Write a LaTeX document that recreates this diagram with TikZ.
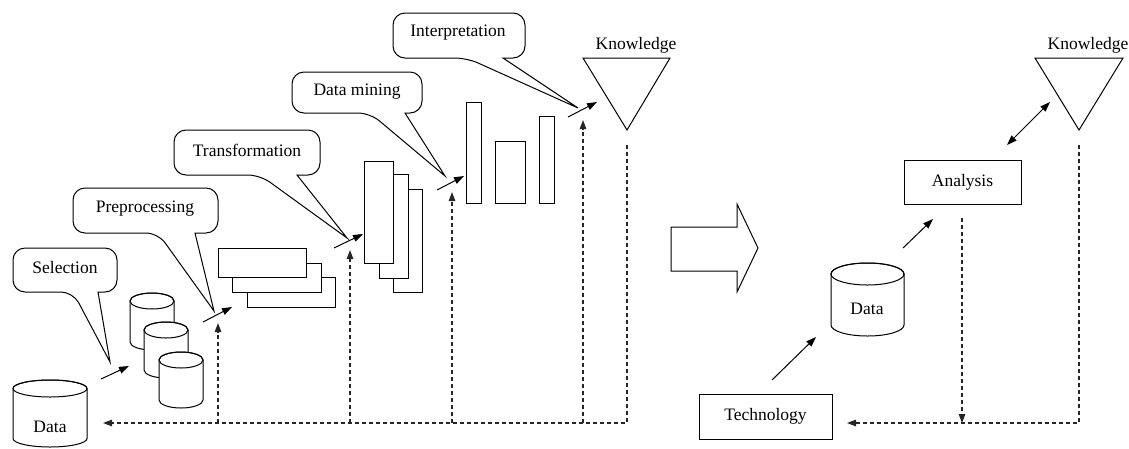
\documentclass[tikz,border=0pt]{standalone}
\usepackage{fontspec}
\setmainfont{Liberation Serif}
\usetikzlibrary{arrows.meta}
\tikzset{
  lbl/.style={font=\fontsize{17.5}{20}\selectfont, inner sep=0pt},
  solid line/.style={line width=1pt},
  callshape/.style={line width=1pt, fill=white},
  boxs/.style={draw, line width=1pt, fill=white, inner sep=0pt},
  cylbody/.style={draw, line width=1pt, fill=white},
  arr/.style={line width=1pt, -{Triangle[length=10pt,width=7pt]}},
  darr/.style={line width=1pt, {Triangle[length=10pt,width=7pt]}-{Triangle[length=10pt,width=7pt]}},
  fb/.style={line width=1.2pt, dash pattern=on 4pt off 3pt, black!85},
  fbarr/.style={fb, -{Triangle[length=9pt,width=6.5pt]}},
}
% callout: x1, ytop, x2, ybot, base left, base right, tip x, tip y (pixel y, positive down)
\newcommand{\callout}[8]{%
  \draw[callshape] (#6,-#4) [rounded corners=12pt] -- (#3,-#4) -- (#3,-#2) -- (#1,-#2) -- (#1,-#4) -- (#5,-#4) [sharp corners] -- (#7,-#8) -- cycle;}
% cylinder: name, cx, top, bottom, rx, ry (pixel y positive down)
\newcommand{\cylshape}[6]{%
  \path[cylbody] (#2-#5,-#3-#6) -- (#2-#5,-#4+#6)
    arc[start angle=180,end angle=360,x radius=#5pt,y radius=#6pt]
    -- (#2+#5,-#3-#6)
    arc[start angle=0,end angle=180,x radius=#5pt,y radius=#6pt] -- cycle;
  \draw[line width=1pt] (#2,-#3-#6) ellipse[x radius=#5pt,y radius=#6pt];
  \coordinate (#1) at (#2,{-(#3+#4)/2});}
% rectangle node: name, x1, y1, x2, y2 (pixel y positive down)
\newcommand{\rbox}[5]{%
  \node[boxs, minimum width={(#4-#2)*1pt}, minimum height={(#5-#3)*1pt}] (#1) at ({(#2+#4)/2},{-(#3+#5)/2}) {};}
\begin{document}
\begin{tikzpicture}[x=1pt,y=1pt]
\useasboundingbox (0,0) rectangle (1129,-448);

% ---------- left process ----------
\cylshape{data1}{50}{380}{447}{37}{8.5}
\node[lbl] (data1txt) at (50,-427) {Data};

\cylshape{cyl1}{152}{293}{350}{22}{8}
\cylshape{cyl2}{166}{322}{378}{22}{8}
\cylshape{cyl3}{181}{352}{408}{22}{8}

\rbox{h3}{247}{277}{335}{307}
\rbox{h2}{232}{263}{321}{292}
\rbox{h1}{218}{248}{306}{277}

\rbox{v3}{393}{189}{422}{292}
\rbox{v2}{379}{174}{408}{278}
\rbox{v1}{364}{161}{393}{263}

\rbox{b1}{466}{102}{481}{203}
\rbox{b2}{495}{141}{525}{203}
\rbox{b3}{539}{116}{554}{203}

\draw[solid line] (583,-58) coordinate (k1l) -- (670,-58) coordinate (k1r) -- (627,-130) coordinate (k1t) -- cycle;
\node[lbl] (kn1) at (636,-45) {Knowledge};

\callout{13}{248}{117}{292}{73}{98}{110}{362}
\node[lbl] (tSel) at (65,-268) {Selection};
\callout{73}{188}{218}{233}{158}{195}{214}{311}
\node[lbl] (tPre) at (145,-209) {Preprocessing};
\callout{174}{130}{320}{175}{260}{297}{347}{238}
\node[lbl] (tTra) at (247,-150) {Transformation};
\callout{292}{72}{422}{113}{370}{405}{445}{176}
\node[lbl] (tDM) at (357,-92) {Data mining};
\callout{393}{13}{525}{58}{467}{503}{578}{108}
\node[lbl] (tInt) at (458,-33) {Interpretation};

\coordinate (a1s) at (101,-379); \coordinate (a1e) at (129,-366);
\coordinate (a2s) at (203,-322); \coordinate (a2e) at (232,-307);
\coordinate (a3s) at (334,-248); \coordinate (a3e) at (363,-234);
\coordinate (a4s) at (437,-190); \coordinate (a4e) at (464,-176);
\coordinate (a5s) at (568,-117); \coordinate (a5e) at (597,-102);
\draw[arr] (a1s) -- (a1e);
\draw[arr] (a2s) -- (a2e);
\draw[arr] (a3s) -- (a3e);
\draw[arr] (a4s) -- (a4e);
\draw[arr] (a5s) -- (a5e);

\coordinate (k1d) at (627,-145);
\coordinate (fbend) at (103,-423);
\draw[fbarr] (k1d) |- (fbend);
\coordinate (j1) at (218,-423); \coordinate (u1) at (218,-323);
\coordinate (j2) at (350,-423); \coordinate (u2) at (350,-250);
\coordinate (j3) at (452,-423); \coordinate (u3) at (452,-192);
\coordinate (j4) at (583,-423); \coordinate (u4) at (583,-120);
\draw[fbarr] (j1) -- (u1);
\draw[fbarr] (j2) -- (u2);
\draw[fbarr] (j3) -- (u3);
\draw[fbarr] (j4) -- (u4);

% ---------- big arrow ----------
\draw[solid line] (671,-227) coordinate (bigA) -- (737,-227) -- (737,-204) -- (758,-248) coordinate (bigTip) -- (737,-292) -- (737,-271) -- (671,-271) -- cycle;

% ---------- right side ----------
\node[boxs, lbl, minimum width=133pt, minimum height=45pt] (tech) at (765.5,-416.5) {Technology};
\cylshape{data2}{867.5}{263}{336}{36.5}{11}
\node[lbl] (data2txt) at (867,-309) {Data};
\node[boxs, lbl, minimum width=117pt, minimum height=44pt] (ana) at (962.5,-182) {Analysis};

\draw[solid line] (1035,-58) coordinate (k2l) -- (1123,-58) coordinate (k2r) -- (1079,-130) coordinate (k2t) -- cycle;
\node[lbl] (kn2) at (1088,-45) {Knowledge};

\coordinate (r1s) at (772,-380); \coordinate (r1e) at (816,-337);
\coordinate (r2s) at (903,-248); \coordinate (r2e) at (933,-219);
\coordinate (r3s) at (1007,-145); \coordinate (r3e) at (1050,-102);
\draw[arr] (r1s) -- (r1e);
\draw[arr] (r2s) -- (r2e);
\draw[darr] (r3s) -- (r3e);

\coordinate (k2d) at (1079,-145);
\coordinate (techR) at (847,-423);
\draw[fbarr] (k2d) |- (techR);
\coordinate (anaD) at (962,-218); \coordinate (anaJ) at (962,-423);
\draw[fbarr] (anaD) -- (anaJ);
\end{tikzpicture}
\end{document}
